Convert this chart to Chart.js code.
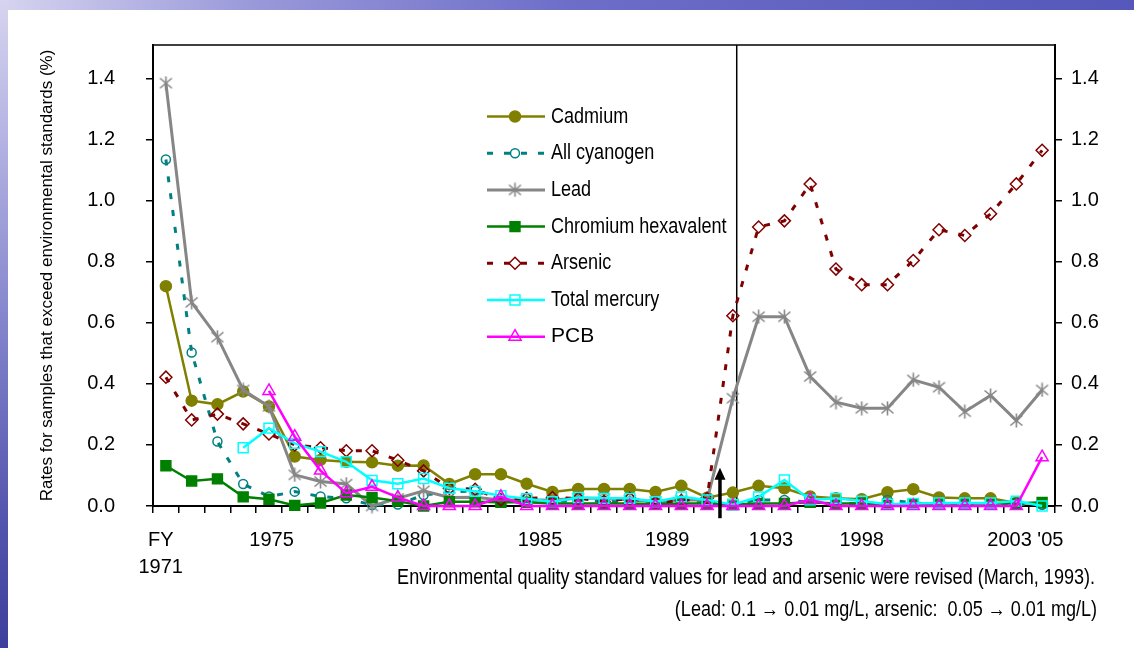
<!DOCTYPE html>
<html>
<head>
<meta charset="utf-8">
<script src="https://cdn.jsdelivr.net/npm/chart.js@4.4.1/dist/chart.umd.min.js"></script>
<style>
  html, body { margin: 0; padding: 0; background: #fff; }
  body { width: 1134px; height: 648px; position: relative; overflow: hidden; }
  #topband { position: absolute; left: 0; top: 0; width: 1134px; height: 10px;
    background: linear-gradient(to right, #d6d4ef 0%, #9a99da 22%, #6d6ec8 50%, #5557ba 100%); }
  #leftband { position: absolute; left: 0; top: 0; width: 8px; height: 648px;
    background: linear-gradient(to bottom, #d6d4ef 0%, #b3b2e2 22%, #8384cc 50%, #5354ad 80%, #3d3f9c 100%); }
  #wrap { position: absolute; left: 0; top: 0; width: 1134px; height: 648px; }
</style>
</head>
<body>
<div id="topband"></div>
<div id="leftband"></div>
<div id="wrap"><canvas id="chart"></canvas></div>
<script>
// FY 1971 .. 2005, one value per fiscal year (% of samples over the standard)
const years = [1971, 1972, 1973, 1974, 1975, 1976, 1977, 1978, 1979, 1980,
  1981, 1982, 1983, 1984, 1985, 1986, 1987, 1988, 1989, 1990,
  1991, 1992, 1993, 1994, 1995, 1996, 1997, 1998, 1999, 2000,
  2001, 2002, 2003, 2004, 2005];

const cadmium = [0.72, 0.345, 0.333, 0.375, 0.326, 0.162, 0.151, 0.145, 0.143, 0.132,
  0.133, 0.072, 0.104, 0.104, 0.073, 0.046, 0.056, 0.056, 0.056, 0.046,
  0.066, 0.027, 0.044, 0.066, 0.058, 0.031, 0.025, 0.022, 0.045, 0.055,
  0.028, 0.025, 0.025, 0.01, 0.008];
const cyanogen = [1.135, 0.503, 0.211, 0.072, 0.031, 0.047, 0.031, 0.025, 0.003, 0.005,
  0.036, 0.045, 0.05, 0.02, 0.015, 0.015, 0.018, 0.015, 0.015, 0.012,
  0.015, 0.012, 0.005, 0.02, 0.02, 0.012, 0.01, 0.006, 0.02, 0.01,
  0.006, 0.006, 0.006, 0.005, 0.004];
const lead = [1.385, 0.667, 0.553, 0.38, 0.326, 0.102, 0.08, 0.072, 0.0, 0.025,
  0.05, 0.028, 0.029, 0.02, 0.02, 0.02, 0.025, 0.025, 0.02, 0.015,
  0.02, 0.02, 0.353, 0.62, 0.62, 0.424, 0.34, 0.32, 0.32, 0.413,
  0.389, 0.309, 0.362, 0.28, 0.38];
const chromium = [0.132, 0.082, 0.089, 0.03, 0.022, 0.002, 0.01, 0.036, 0.028, 0.016,
  0.0, 0.014, 0.014, 0.012, 0.012, 0.008, 0.008, 0.008, 0.008, 0.006,
  0.008, 0.008, 0.005, 0.008, 0.008, 0.012, 0.008, 0.008, 0.006, 0.006,
  0.008, 0.008, 0.008, 0.008, 0.012];
const arsenic = [0.422, 0.282, 0.301, 0.269, 0.236, 0.2, 0.191, 0.181, 0.181, 0.15,
  0.115, 0.058, 0.055, 0.02, 0.025, 0.028, 0.025, 0.015, 0.025, 0.011,
  0.018, 0.025, 0.623, 0.914, 0.934, 1.055, 0.776, 0.725, 0.725, 0.804,
  0.905, 0.886, 0.957, 1.055, 1.165];
const mercury = [null, null, null, 0.191, 0.255, 0.205, 0.178, 0.145, 0.084, 0.073,
  0.09, 0.058, 0.048, 0.034, 0.024, 0.014, 0.028, 0.025, 0.025, 0.014,
  0.03, 0.02, 0.004, 0.03, 0.085, 0.02, 0.025, 0.016, 0.006, 0.008,
  0.01, 0.01, 0.01, 0.016, 0.0];
const pcb = [null, null, null, null, 0.377, 0.227, 0.116, 0.042, 0.063, 0.028,
  0, 0, 0, 0.03, 0, 0, 0, 0, 0, 0,
  0, 0, 0, 0, 0, 0.02, 0, 0, 0, 0,
  0, 0, 0, 0, 0.16];

const seriesNames = ['Cadmium', 'All cyanogen', 'Lead', 'Chromium hexavalent', 'Arsenic', 'Total mercury', 'PCB'];

const yTickValues = [0.0, 0.2, 0.4, 0.6, 0.8, 1.0, 1.2, 1.4];
const xTickLabels = [['FY', '1971'], '1975', '1980', '1985', '1989', '1993', '1998', "2003 '05"];
const xTickAt = [1970.8, 1975.1, 1980.45, 1985.52, 1990.45, 1994.48, 1998.0, 2004.35];

const yTitle = 'Rates for samples that exceed environmental standards (%)';
const note1 = 'Environmental quality standard values for lead and arsenic were revised (March, 1993).';
const note2 = '(Lead: 0.1 \u2192 0.01 mg/L, arsenic:  0.05 \u2192 0.01 mg/L)';

const revisionAt = 1993.15;   // thin vertical line
const arrowAt = 1992.5;       // black arrow under the line
const arrowFrom = -0.04, arrowTo = 0.125;

// fonts: the original uses a narrow face for most text
function hasFont(name) {
  const c = document.createElement('canvas').getContext('2d');
  const s = 'Cadmium hexavalent 1975';
  c.font = '40px monospace';
  const a = c.measureText(s).width;
  c.font = '40px "' + name + '", monospace';
  return c.measureText(s).width !== a;
}
const HAS_NARROW = hasFont('Liberation Sans Narrow');
const REG = '"Liberation Sans", Arial, sans-serif';
const NARROW = HAS_NARROW ? '"Liberation Sans Narrow", "Arial Narrow", sans-serif' : REG;
const TICK_SIZE = HAS_NARROW ? 24 : 20;

function narrowText(ctx, text, x, y, size, align) {
  ctx.save();
  ctx.fillStyle = '#000';
  ctx.textBaseline = 'middle';
  ctx.textAlign = align || 'left';
  if (HAS_NARROW) {
    ctx.font = size + 'px ' + NARROW;
    ctx.fillText(text, x, y);
  } else {
    ctx.font = size + 'px ' + REG;
    ctx.translate(x, y);
    ctx.scale(0.82, 1);
    ctx.fillText(text, 0, 0);
  }
  ctx.restore();
}

// Excel-like asterisk marker (X plus a vertical bar)
function asterisk(color) {
  const c = document.createElement('canvas');
  c.width = 15; c.height = 15;
  const g = c.getContext('2d');
  g.strokeStyle = color;
  g.lineWidth = 1.6;
  g.beginPath();
  g.moveTo(1.5, 2.5); g.lineTo(13.5, 12.5);
  g.moveTo(13.5, 2.5); g.lineTo(1.5, 12.5);
  g.moveTo(7.5, 0.5); g.lineTo(7.5, 14.5);
  g.stroke();
  return c;
}

const styles = [
  { color: '#808000', width: 2.5, dash: [], point: 'circle', r: 5.5, fill: true },
  { color: '#008080', width: 3, dash: [6, 11], point: 'circle', r: 4.5, fill: false },
  { color: '#868686', width: 3, dash: [], point: asterisk('#868686'), r: 7, fill: false },
  { color: '#008000', width: 2.5, dash: [], point: 'rect', r: 7, fill: true },
  { color: '#800000', width: 3, dash: [6, 11], point: 'rectRot', r: 6, fill: false },
  { color: '#00ffff', width: 2.5, dash: [], point: 'rect', r: 7, fill: false },
  { color: '#ff00ff', width: 2.5, dash: [], point: 'triangle', r: 7, fill: false }
];
const values = [cadmium, cyanogen, lead, chromium, arsenic, mercury, pcb];

const datasets = values.map((v, i) => {
  const s = styles[i];
  return {
    label: seriesNames[i],
    data: v,
    borderColor: s.color,
    borderWidth: s.width,
    borderDash: s.dash,
    pointStyle: s.point,
    pointRadius: s.r,
    pointBorderWidth: 1.5,
    pointBorderColor: s.color,
    pointBackgroundColor: s.fill ? s.color : 'rgba(0,0,0,0)',
    tension: 0,
    fill: false,
    clip: false,
    order: values.length - 1 - i
  };
});

const decorPlugin = {
  id: 'decor',
  beforeDatasetsDraw(chart) {
    const { ctx, chartArea: a, scales: { x } } = chart;
    ctx.save();
    ctx.strokeStyle = '#000';
    ctx.lineWidth = 1.5;
    ctx.beginPath();
    ctx.moveTo(a.left, a.top);
    ctx.lineTo(a.right, a.top);
    ctx.stroke();
    const rx = x.getPixelForValue(revisionAt);
    ctx.beginPath();
    ctx.moveTo(rx, a.top);
    ctx.lineTo(rx, a.bottom);
    ctx.stroke();
    ctx.restore();
  },
  afterDatasetsDraw(chart) {
    const { ctx, scales: { x, y } } = chart;
    const ax = x.getPixelForValue(arrowAt);
    const y0 = y.getPixelForValue(arrowFrom);
    const y1 = y.getPixelForValue(arrowTo);
    ctx.save();
    ctx.strokeStyle = '#000';
    ctx.fillStyle = '#000';
    ctx.lineWidth = 3.5;
    ctx.beginPath();
    ctx.moveTo(ax, y0);
    ctx.lineTo(ax, y1 + 9);
    ctx.stroke();
    ctx.beginPath();
    ctx.moveTo(ax, y1);
    ctx.lineTo(ax - 5.5, y1 + 12);
    ctx.lineTo(ax + 5.5, y1 + 12);
    ctx.closePath();
    ctx.fill();
    ctx.restore();
    narrowText(ctx, note1, 1095, 578, 22, 'right');
    narrowText(ctx, note2, 1097, 610, 22, 'right');
  }
};

const legendPlugin = {
  id: 'insideLegend',
  afterDraw(chart) {
    const { ctx, chartArea: a } = chart;
    const left = a.left + 334, top = a.top + 71.5, step = 36.7;
    chart.data.datasets.forEach((ds, i) => {
      const yy = top + i * step;
      ctx.save();
      ctx.strokeStyle = ds.borderColor;
      ctx.lineWidth = ds.borderWidth;
      ctx.setLineDash(ds.borderDash);
      ctx.beginPath();
      ctx.moveTo(left, yy);
      ctx.lineTo(left + 58, yy);
      ctx.stroke();
      ctx.setLineDash([]);
      ctx.strokeStyle = ds.pointBorderColor;
      ctx.fillStyle = ds.pointBackgroundColor;
      ctx.lineWidth = ds.pointBorderWidth;
      Chart.helpers.drawPoint(ctx, { pointStyle: ds.pointStyle, radius: ds.pointRadius, rotation: 0, borderWidth: ds.pointBorderWidth }, left + 28, yy);
      ctx.restore();
      if (ds.label === 'PCB') {
        ctx.save();
        ctx.fillStyle = '#000';
        ctx.textBaseline = 'middle';
        ctx.font = '21px ' + REG;
        ctx.fillText(ds.label, left + 64, yy);
        ctx.restore();
      } else {
        narrowText(ctx, ds.label, left + 64, yy, 22, 'left');
      }
    });
  }
};

const boundaries = years.map(v => v - 0.5).concat([years[years.length - 1] + 0.5]);
const tickFont = { family: NARROW, size: TICK_SIZE, lineHeight: 1.35 };

new Chart(document.getElementById('chart'), {
  type: 'line',
  data: { labels: years, datasets },
  options: {
    responsive: true,
    maintainAspectRatio: false,
    animation: false,
    events: [],
    layout: { padding: { left: 37, top: 45, right: 0, bottom: 0 } },
    plugins: { legend: { display: false }, tooltip: { enabled: false } },
    scales: {
      x: {
        type: 'linear',
        min: 1970.5,
        max: 2005.5,
        afterBuildTicks: s => {
          s.ticks = boundaries.map(v => ({ value: v }))
            .concat(xTickAt.map(v => ({ value: v })))
            .sort((p, q) => p.value - q.value);
        },
        afterFit: s => { s.height = 142; },
        grid: {
          drawOnChartArea: false,
          tickLength: 7,
          lineWidth: 1.5,
          color: c => (c.tick && xTickAt.includes(c.tick.value)) ? 'rgba(0,0,0,0)' : '#000'
        },
        border: { color: '#000', width: 2 },
        ticks: {
          autoSkip: false,
          maxRotation: 0,
          minRotation: 0,
          padding: 14,
          color: '#000',
          font: tickFont,
          callback: v => {
            const i = xTickAt.indexOf(v);
            return i >= 0 ? xTickLabels[i] : '';
          }
        }
      },
      y: {
        position: 'left',
        min: 0,
        max: 1.51,
        afterBuildTicks: s => { s.ticks = yTickValues.map(v => ({ value: v })); },
        afterFit: s => { s.width = 116; },
        grid: { drawOnChartArea: false, tickLength: 7, lineWidth: 1.5, color: '#000' },
        border: { color: '#000', width: 2 },
        ticks: { padding: 31, color: '#000', font: { family: NARROW, size: TICK_SIZE }, callback: v => v.toFixed(1) },
        title: { display: true, text: yTitle, padding: 0, color: '#000', font: { family: REG, size: 17 } }
      },
      y2: {
        position: 'right',
        min: 0,
        max: 1.51,
        afterBuildTicks: s => { s.ticks = yTickValues.map(v => ({ value: v })); },
        afterFit: s => { s.width = 79; },
        grid: { drawOnChartArea: false, tickLength: 7, lineWidth: 1.5, color: '#000' },
        border: { color: '#000', width: 2 },
        ticks: { padding: 9, color: '#000', font: { family: NARROW, size: TICK_SIZE }, callback: v => v.toFixed(1) }
      }
    }
  },
  plugins: [decorPlugin, legendPlugin]
});
</script>
</body>
</html>
